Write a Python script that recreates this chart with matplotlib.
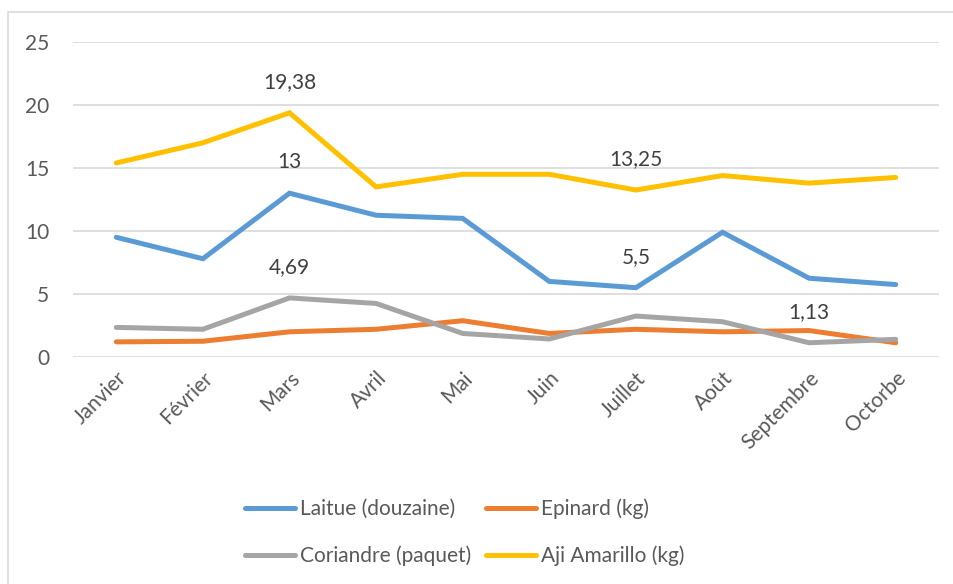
import matplotlib.pyplot as plt
import matplotlib.patches as mpatches

# ==== Data ====
months = ['Janvier', 'Février', 'Mars', 'Avril', 'Mai', 'Juin',
          'Juillet', 'Août', 'Septembre', 'Octorbe']
laitue = [9.5, 7.8, 13, 11.25, 11.0, 6.0, 5.5, 9.9, 6.25, 5.75]
epinard = [1.2, 1.25, 2.0, 2.2, 2.88, 1.87, 2.2, 2.0, 2.1, 1.13]
coriandre = [2.35, 2.2, 4.69, 4.25, 1.87, 1.43, 3.25, 2.8, 1.13, 1.4]
aji = [15.4, 17.0, 19.38, 13.5, 14.5, 14.5, 13.25, 14.4, 13.8, 14.25]

series_names = ['Laitue (douzaine)', 'Epinard (kg)', 'Coriandre (paquet)', 'Aji Amarillo (kg)']
# (series index, month index) for value labels shown in the chart
labelled = [(3, 2), (0, 2), (2, 2), (3, 6), (0, 6), (2, 8)]

COLORS = ['#5B9BD5', '#ED7D31', '#A5A5A5', '#FFC000']
TEXT = '#595959'
GRID = '#D9D9D9'

plt.rcParams['font.family'] = ['Lato', 'DejaVu Sans']

fig = plt.figure(figsize=(9.54, 5.84), dpi=100)
W, H = 954, 584

# chart border
fig.patches.append(mpatches.Rectangle((8 / W, -0.1), 1.1, 1 - 12 / H + 0.1,
                                      transform=fig.transFigure, fill=False,
                                      edgecolor=GRID, linewidth=1.2))

ax = fig.add_axes([73 / W, 1 - 357 / H, (939 - 73) / W, (357 - 42) / H])
x = range(len(months))
all_series = [laitue, epinard, coriandre, aji]
handles = []
for vals, name, col in zip(all_series, series_names, COLORS):
    h, = ax.plot(x, vals, color=col, linewidth=3.6, solid_capstyle='round',
                 solid_joinstyle='miter', label=name)
    handles.append(h)

for si, mi in labelled:
    v = all_series[si][mi]
    ax.annotate(f"{v:g}".replace('.', ','), (mi, v), xytext=(0, 15),
                textcoords='offset points', ha='center', va='bottom',
                fontsize=15, color='#404040')

ax.set_xlim(-0.5, len(months) - 0.5)
ax.set_ylim(0, 25)
ax.set_yticks(range(0, 26, 5))
ax.set_xticks(list(x))
ax.set_xticklabels(months, rotation=45, ha='right', rotation_mode='anchor',
                   fontsize=15, color=TEXT)
ax.tick_params(axis='y', labelsize=15, labelcolor=TEXT, length=0, pad=17)
ax.tick_params(axis='x', length=0, pad=8)
ax.grid(True, axis='y', color=GRID, linewidth=1.2)
ax.set_axisbelow(True)
for s in ax.spines.values():
    s.set_visible(False)

# legend fills column-wise: reorder so rows read Laitue/Epinard, Coriandre/Aji
order = [0, 2, 1, 3]
fig.legend(handles=[handles[i] for i in order], loc='upper left',
           bbox_to_anchor=(226 / W, 1 - 480 / H),
           ncol=2, frameon=False, fontsize=15, labelcolor=TEXT,
           handlelength=2.4, handletextpad=0.25, columnspacing=0.7,
           labelspacing=1.25)

fig.savefig('out.png', dpi=100, facecolor='white')
